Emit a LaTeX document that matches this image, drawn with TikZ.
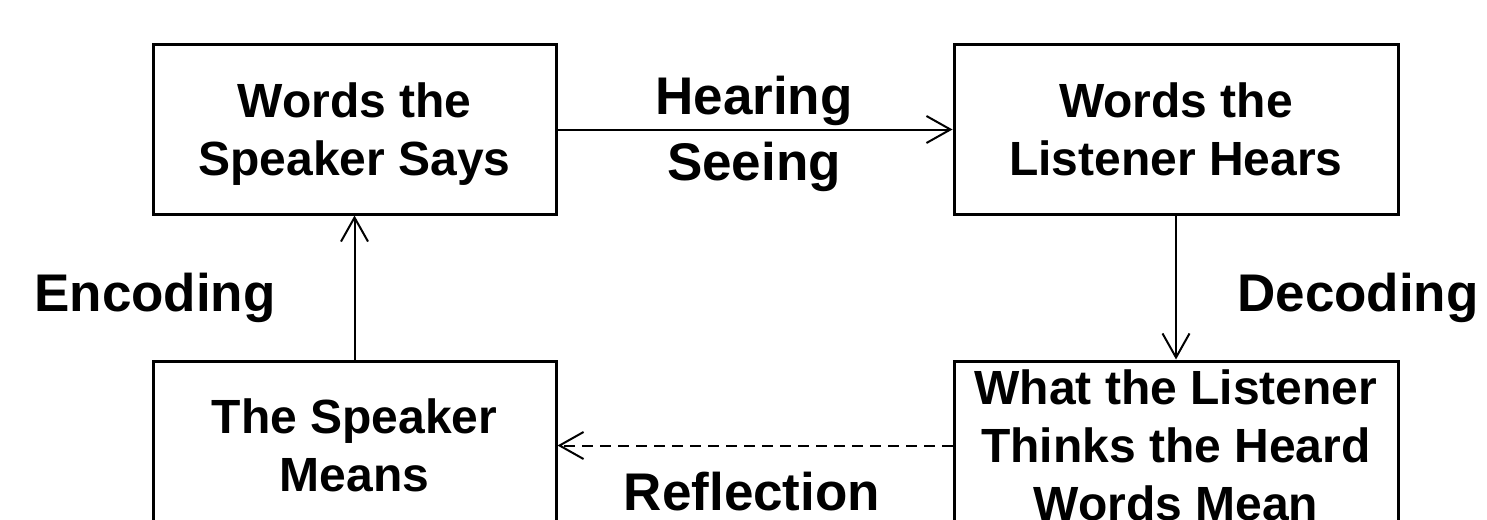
\documentclass[tikz,border=0pt]{standalone}
\usepackage{fontspec}
\setmainfont{Liberation Sans}
\usetikzlibrary{arrows.meta}
\begin{document}
\begin{tikzpicture}[x=0.5pt,y=-0.5pt,
  box/.style={draw,line width=1.5pt,rectangle,inner sep=0pt,align=center,
    minimum height=84.5pt,text depth=0pt,font=\fontsize{24}{29}\selectfont\bfseries},
  leftbox/.style={box,minimum width=201.5pt},
  rightbox/.style={box,minimum width=222pt},
  lbl/.style={anchor=base,inner sep=0pt,font=\fontsize{26.5}{31}\selectfont\bfseries},
  conn/.style={line width=1pt,-{Straight Barb[length=12pt,width=13.5pt]}}]
\useasboundingbox (0,0) rectangle (1487,519);
\clip (0,0) rectangle (1487,519);
\node[leftbox]  (tl) at (354.5,129.5) {Words the\\Speaker Says};
\node[rightbox] (tr) at (1176,129.5)  {Words the\\Listener Hears};
\node[leftbox]  (bl) at (354.5,445.5) {The Speaker\\Means};
\node[rightbox] (br) at (1176,445.5)  {What the Listener\\Thinks the Heard\\Words Mean};
\draw[conn] (tl) -- (tr);
\draw[conn] (tr) -- (br);
\draw[conn] (bl) -- (tl);
\draw[conn,dash pattern=on 5.5pt off 3.5pt] (br) -- (bl);
\node[lbl] (hearing) at (754,114) {Hearing};
\node[lbl] (seeing) at (754,180) {Seeing};
\node[lbl] (encoding) at (155,311) {Encoding};
\node[lbl] (decoding) at (1358,311) {Decoding};
\node[lbl] (reflection) at (752,510) {Reflection};
\end{tikzpicture}
\end{document}
